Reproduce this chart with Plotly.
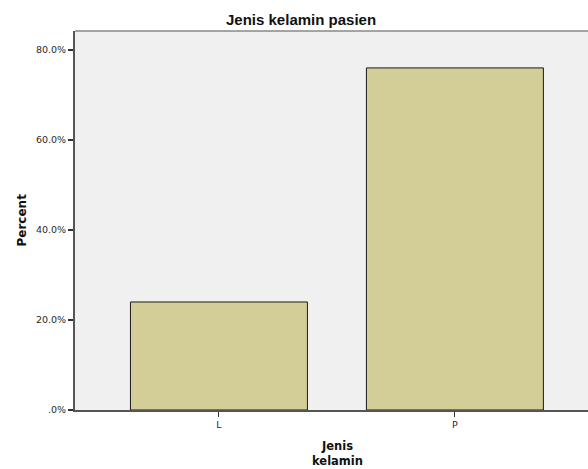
import plotly.graph_objects as go

categories = ["L", "P"]
percent_values = [24.0, 76.0]
y_tick_vals = [0, 20, 40, 60, 80]
y_tick_text = [".0%", "20.0%", "40.0%", "60.0%", "80.0%"]

x_idx = list(range(len(categories)))

fig = go.Figure()
fig.add_trace(go.Bar(
    x=x_idx, y=percent_values, width=0.75,
    marker=dict(color="#d3ce97", line=dict(color="#1a1a1a", width=1)),
    hoverinfo="skip",
))

fig.update_layout(
    width=588, height=469,
    margin=dict(l=75, r=0, t=31, b=59),
    paper_bgcolor="white", plot_bgcolor="#f0f0f0",
    showlegend=False,
    font=dict(family="DejaVu Sans, sans-serif", size=9.5, color="#2a2a2a"),
    xaxis=dict(
        range=[-0.61, 1.564], tickmode="array", tickvals=x_idx, ticktext=categories,
        showline=True, linecolor="#555", linewidth=2, mirror=False,
        ticks="outside", ticklen=5, tickcolor="#333", tickwidth=1,
        showgrid=False, zeroline=False, fixedrange=True,
    ),
    yaxis=dict(
        range=[0, 84.2], tickmode="array", tickvals=y_tick_vals, ticktext=y_tick_text,
        showline=True, linecolor="#555", linewidth=2,
        ticks="outside", ticklen=5, tickcolor="#333", tickwidth=1.5,
        showgrid=False, zeroline=False, fixedrange=True,
    ),
    shapes=[dict(type="line", xref="paper", yref="paper", x0=0, x1=1, y0=1, y1=1,
                 line=dict(color="#888", width=1.5))],
    annotations=[
        dict(text="<b>Jenis kelamin pasien</b>", xref="paper", yref="paper",
             x=(301 - 75) / 513, y=1, yshift=12, xanchor="center", yanchor="middle",
             showarrow=False,
             font=dict(family="Liberation Sans, Arial, sans-serif", size=15, color="#111")),
        dict(text="<b>Percent</b>", xref="paper", yref="paper", x=0, xshift=-54,
             y=0.5, xanchor="center", yanchor="middle", textangle=-90,
             showarrow=False, font=dict(size=12, color="#111")),
        dict(text="<b>Jenis<br>kelamin</b>", xref="paper", yref="paper",
             x=(337 - 75) / 513, y=0, yshift=-43, xanchor="center", yanchor="middle",
             showarrow=False, font=dict(size=11.5, color="#111")),
    ],
)

fig.write_html(
    "out.html",
    config={"displayModeBar": False},
    post_script="document.body.style.margin='0';document.body.style.overflow='hidden';",
)
